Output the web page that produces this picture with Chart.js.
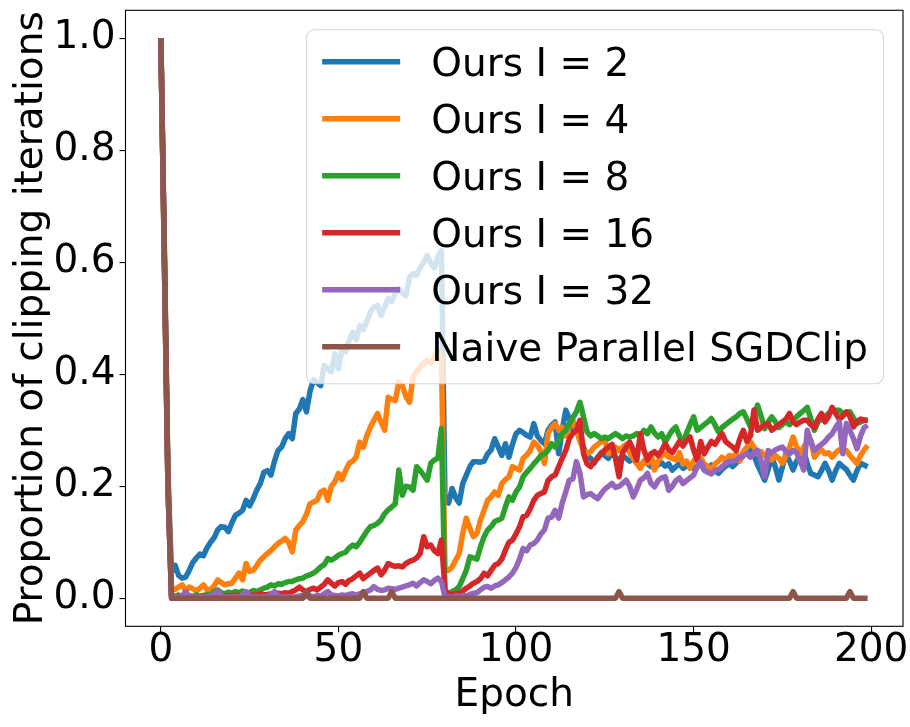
<!DOCTYPE html>
<html>
<head>
<meta charset="utf-8">
<script src="https://cdn.jsdelivr.net/npm/chart.js@4.4.1/dist/chart.umd.min.js"></script>
<style>
html, body { margin: 0; padding: 0; background: #fff; }
#wrap { width: 910px; height: 727px; }
</style>
</head>
<body>
<div id="wrap"><canvas id="clipping"></canvas></div>
<script>
var seriesNames = ['Ours I = 2', 'Ours I = 4', 'Ours I = 8', 'Ours I = 16', 'Ours I = 32', 'Naive Parallel SGDClip'];
var seriesColors = ['#1f77b4', '#ff7f0e', '#2ca02c', '#d62728', '#9467bd', '#8c564b'];

var xTicks = [0, 50, 100, 150, 200];
var yTicks = [0, 0.2, 0.4, 0.6, 0.8, 1.0];

// proportion of clipping iterations per epoch (epoch 0..199)
var oursI2 = [
  1.0, 0.62, 0.22, 0.047, 0.059, 0.041, 0.036, 0.038, 0.05, 0.064,
  0.072, 0.079, 0.076, 0.09, 0.1, 0.108, 0.122, 0.128, 0.127, 0.119,
  0.135, 0.148, 0.152, 0.157, 0.175, 0.165, 0.178, 0.193, 0.205, 0.225,
  0.228, 0.22, 0.245, 0.264, 0.27, 0.285, 0.294, 0.285, 0.33, 0.338,
  0.355, 0.333, 0.37, 0.39, 0.385, 0.38, 0.416, 0.41, 0.404, 0.437,
  0.41, 0.446, 0.44, 0.46, 0.475, 0.462, 0.487, 0.48, 0.495, 0.511,
  0.52, 0.523, 0.505, 0.52, 0.535, 0.53, 0.545, 0.553, 0.545, 0.54,
  0.573, 0.58, 0.577, 0.59, 0.6, 0.612, 0.598, 0.59, 0.61, 0.621,
  0.175, 0.17, 0.196, 0.18, 0.17, 0.205, 0.22, 0.235, 0.244, 0.244,
  0.243, 0.245, 0.258, 0.265, 0.285, 0.27, 0.255, 0.276, 0.252, 0.275,
  0.294, 0.3, 0.296, 0.291, 0.288, 0.312, 0.29, 0.282, 0.276, 0.3,
  0.309, 0.315, 0.258, 0.3, 0.336, 0.321, 0.3, 0.3, 0.29, 0.27,
  0.255, 0.25, 0.241, 0.252, 0.26, 0.255, 0.25, 0.26, 0.252, 0.246,
  0.255, 0.25, 0.245, 0.25, 0.241, 0.235, 0.245, 0.24, 0.235, 0.24,
  0.238, 0.242, 0.236, 0.24, 0.229, 0.235, 0.24, 0.232, 0.236, 0.238,
  0.232, 0.235, 0.24, 0.229, 0.232, 0.238, 0.228, 0.223, 0.23, 0.236,
  0.24, 0.235, 0.242, 0.247, 0.255, 0.262, 0.27, 0.255, 0.238, 0.225,
  0.211, 0.23, 0.252, 0.235, 0.211, 0.235, 0.258, 0.245, 0.229, 0.245,
  0.255, 0.264, 0.24, 0.223, 0.22, 0.217, 0.228, 0.241, 0.228, 0.211,
  0.228, 0.241, 0.235, 0.23, 0.22, 0.211, 0.228, 0.241, 0.238, 0.235
];
var oursI4 = [
  1.0, 0.6, 0.2, 0.018, 0.016, 0.02, 0.024, 0.013, 0.02, 0.017,
  0.013, 0.018, 0.024, 0.015, 0.016, 0.022, 0.033, 0.028, 0.024, 0.026,
  0.027, 0.036, 0.045, 0.033, 0.062, 0.048, 0.05, 0.058, 0.068, 0.074,
  0.08, 0.085, 0.092, 0.098, 0.102, 0.107, 0.1, 0.083, 0.122, 0.13,
  0.137, 0.15, 0.169, 0.172, 0.175, 0.19, 0.193, 0.175, 0.2, 0.208,
  0.223, 0.212, 0.228, 0.241, 0.245, 0.252, 0.279, 0.27, 0.29, 0.306,
  0.318, 0.33, 0.315, 0.3, 0.359, 0.355, 0.353, 0.386, 0.38, 0.36,
  0.35, 0.395, 0.405, 0.413, 0.42, 0.425, 0.42, 0.43, 0.443, 0.43,
  0.05, 0.05, 0.056, 0.068, 0.08, 0.116, 0.143, 0.125, 0.11, 0.116,
  0.14, 0.157, 0.175, 0.181, 0.19, 0.184, 0.205, 0.212, 0.217, 0.235,
  0.232, 0.229, 0.25, 0.256, 0.264, 0.279, 0.273, 0.262, 0.241, 0.294,
  0.305, 0.312, 0.3, 0.305, 0.29, 0.31, 0.318, 0.3, 0.28, 0.265,
  0.258, 0.262, 0.27, 0.275, 0.28, 0.282, 0.258, 0.265, 0.27, 0.264,
  0.27, 0.275, 0.26, 0.25, 0.24, 0.232, 0.245, 0.241, 0.258, 0.229,
  0.245, 0.255, 0.258, 0.252, 0.25, 0.247, 0.26, 0.24, 0.245, 0.232,
  0.245, 0.255, 0.25, 0.24, 0.235, 0.229, 0.24, 0.245, 0.252, 0.245,
  0.255, 0.252, 0.258, 0.245, 0.262, 0.27, 0.279, 0.27, 0.258, 0.262,
  0.255, 0.25, 0.247, 0.255, 0.25, 0.241, 0.255, 0.27, 0.288, 0.27,
  0.258, 0.27, 0.28, 0.282, 0.252, 0.26, 0.265, 0.258, 0.26, 0.252,
  0.26, 0.265, 0.262, 0.264, 0.255, 0.248, 0.241, 0.255, 0.265, 0.273
];
var oursI8 = [
  1.0, 0.6, 0.2, 0.005, 0.004, 0.006, 0.003, 0.005, 0.004, 0.003,
  0.006, 0.004, 0.005, 0.007, 0.006, 0.012, 0.015, 0.01, 0.008, 0.011,
  0.009, 0.012, 0.01, 0.013, 0.011, 0.01, 0.014, 0.012, 0.015, 0.018,
  0.02, 0.024, 0.022, 0.026, 0.025, 0.028, 0.03, 0.03, 0.033, 0.035,
  0.036, 0.04, 0.042, 0.045, 0.05, 0.056, 0.06, 0.071, 0.068, 0.072,
  0.077, 0.08, 0.082, 0.09, 0.095, 0.092, 0.1, 0.11, 0.12, 0.128,
  0.13, 0.134, 0.14, 0.151, 0.158, 0.163, 0.169, 0.229, 0.184, 0.2,
  0.199, 0.193, 0.235, 0.228, 0.22, 0.211, 0.241, 0.247, 0.25, 0.303,
  0.005, 0.008, 0.012, 0.015, 0.021, 0.035, 0.05, 0.074, 0.072, 0.07,
  0.092, 0.11, 0.122, 0.128, 0.137, 0.14, 0.143, 0.163, 0.181, 0.175,
  0.19, 0.199, 0.217, 0.225, 0.232, 0.24, 0.247, 0.255, 0.258, 0.264,
  0.276, 0.27, 0.28, 0.294, 0.3, 0.312, 0.322, 0.333, 0.35, 0.324,
  0.297, 0.29, 0.294, 0.29, 0.285, 0.288, 0.285, 0.29, 0.294, 0.29,
  0.285, 0.29, 0.288, 0.29, 0.294, 0.29, 0.3, 0.294, 0.306, 0.295,
  0.288, 0.294, 0.279, 0.29, 0.3, 0.306, 0.29, 0.276, 0.295, 0.31,
  0.324, 0.3, 0.305, 0.31, 0.315, 0.321, 0.31, 0.297, 0.305, 0.31,
  0.315, 0.32, 0.324, 0.33, 0.333, 0.32, 0.306, 0.325, 0.345, 0.325,
  0.303, 0.315, 0.324, 0.315, 0.305, 0.31, 0.315, 0.31, 0.318, 0.324,
  0.33, 0.335, 0.341, 0.32, 0.3, 0.315, 0.32, 0.325, 0.33, 0.335,
  0.336, 0.336, 0.33, 0.332, 0.333, 0.322, 0.312, 0.315, 0.318, 0.318
];
var oursI16 = [
  1.0, 0.6, 0.2, 0.003, 0.002, 0.004, 0.003, 0.002, 0.004, 0.003,
  0.002, 0.003, 0.004, 0.003, 0.002, 0.004, 0.005, 0.003, 0.004, 0.005,
  0.004, 0.006, 0.005, 0.004, 0.006, 0.007, 0.005, 0.006, 0.008, 0.006,
  0.007, 0.008, 0.006, 0.009, 0.008, 0.01, 0.009, 0.012, 0.015, 0.02,
  0.015, 0.012, 0.016, 0.018, 0.015, 0.02, 0.025, 0.033, 0.027, 0.022,
  0.028, 0.03, 0.025, 0.032, 0.035, 0.04, 0.045, 0.035, 0.04, 0.045,
  0.05, 0.054, 0.042, 0.05, 0.062, 0.059, 0.057, 0.058, 0.056, 0.062,
  0.066, 0.068, 0.072, 0.08, 0.11, 0.092, 0.095, 0.085, 0.08, 0.104,
  0.015, 0.006, 0.007, 0.008, 0.009, 0.013, 0.018, 0.022, 0.027, 0.03,
  0.035, 0.045, 0.04, 0.05, 0.059, 0.062, 0.07, 0.086, 0.1, 0.104,
  0.115, 0.128, 0.146, 0.148, 0.16, 0.175, 0.184, 0.187, 0.19, 0.21,
  0.217, 0.22, 0.235, 0.25, 0.264, 0.285, 0.295, 0.3, 0.318, 0.258,
  0.24, 0.235, 0.245, 0.25, 0.258, 0.265, 0.27, 0.275, 0.25, 0.217,
  0.26, 0.27, 0.279, 0.265, 0.247, 0.294, 0.265, 0.247, 0.258, 0.262,
  0.255, 0.264, 0.276, 0.265, 0.26, 0.27, 0.28, 0.272, 0.282, 0.288,
  0.265, 0.247, 0.28, 0.258, 0.27, 0.28, 0.275, 0.285, 0.294, 0.28,
  0.275, 0.27, 0.264, 0.285, 0.3, 0.28, 0.29, 0.336, 0.3, 0.305,
  0.31, 0.312, 0.3, 0.305, 0.31, 0.315, 0.32, 0.33, 0.315, 0.31,
  0.315, 0.318, 0.318, 0.31, 0.305, 0.32, 0.33, 0.315, 0.325, 0.341,
  0.33, 0.32, 0.325, 0.333, 0.325, 0.306, 0.315, 0.32, 0.318, 0.318
];
var oursI32 = [
  1.0, 0.6, 0.2, 0.002, 0.003, 0.002, 0.004, 0.012, 0.003, 0.002,
  0.002, 0.003, 0.002, 0.003, 0.004, 0.008, 0.013, 0.004, 0.002, 0.003,
  0.002, 0.003, 0.002, 0.006, 0.012, 0.004, 0.002, 0.003, 0.002, 0.003,
  0.002, 0.007, 0.012, 0.004, 0.003, 0.002, 0.003, 0.002, 0.003, 0.004,
  0.005, 0.003, 0.004, 0.003, 0.005, 0.004, 0.008, 0.012, 0.006, 0.005,
  0.004, 0.006, 0.005, 0.007, 0.008, 0.006, 0.008, 0.01, 0.012, 0.015,
  0.021, 0.016, 0.014, 0.015, 0.018, 0.017, 0.016, 0.018, 0.02, 0.022,
  0.024, 0.027, 0.022, 0.028, 0.033, 0.03, 0.026, 0.032, 0.036, 0.03,
  0.002, 0.003, 0.002, 0.004, 0.003, 0.005, 0.004, 0.007, 0.009, 0.01,
  0.015, 0.02, 0.021, 0.018, 0.022, 0.024, 0.028, 0.033, 0.038, 0.045,
  0.055, 0.07, 0.089, 0.085, 0.095, 0.098, 0.104, 0.115, 0.122, 0.143,
  0.145, 0.157, 0.143, 0.17, 0.19, 0.211, 0.213, 0.244, 0.223, 0.181,
  0.185, 0.187, 0.182, 0.178, 0.187, 0.195, 0.2, 0.205, 0.198, 0.2,
  0.205, 0.211, 0.2, 0.181, 0.195, 0.211, 0.215, 0.223, 0.205, 0.199,
  0.21, 0.215, 0.217, 0.193, 0.2, 0.21, 0.215, 0.205, 0.21, 0.215,
  0.22, 0.235, 0.244, 0.229, 0.225, 0.222, 0.228, 0.23, 0.235, 0.241,
  0.245, 0.244, 0.247, 0.252, 0.255, 0.258, 0.252, 0.26, 0.264, 0.245,
  0.217, 0.264, 0.26, 0.265, 0.268, 0.27, 0.262, 0.258, 0.264, 0.26,
  0.245, 0.229, 0.3, 0.28, 0.264, 0.27, 0.275, 0.28, 0.288, 0.294,
  0.305, 0.315, 0.258, 0.312, 0.3, 0.285, 0.267, 0.29, 0.305, 0.309
];
var naiveSGDClip = [
  1.0, 0.62, 0.22, 0, 0, 0, 0, 0, 0, 0,
  0, 0, 0, 0, 0, 0, 0, 0, 0, 0,
  0, 0, 0, 0, 0, 0, 0, 0, 0, 0,
  0, 0, 0, 0, 0, 0, 0, 0, 0, 0,
  0, 0.012, 0, 0, 0, 0, 0, 0, 0, 0,
  0, 0, 0, 0, 0, 0, 0, 0.012, 0, 0,
  0, 0, 0, 0, 0, 0.012, 0, 0, 0, 0,
  0, 0, 0, 0, 0, 0, 0, 0, 0, 0,
  0, 0, 0, 0, 0, 0, 0, 0, 0, 0,
  0, 0, 0, 0, 0, 0, 0, 0, 0, 0,
  0, 0, 0, 0, 0, 0, 0, 0, 0, 0,
  0, 0, 0, 0, 0, 0, 0, 0, 0, 0,
  0, 0, 0, 0, 0, 0, 0, 0, 0, 0.012,
  0, 0, 0, 0, 0, 0, 0, 0, 0, 0,
  0, 0, 0, 0, 0, 0, 0, 0, 0, 0,
  0, 0, 0, 0, 0, 0, 0, 0, 0, 0,
  0, 0, 0, 0, 0, 0, 0, 0, 0, 0,
  0, 0, 0, 0, 0, 0, 0, 0, 0.012, 0,
  0, 0, 0, 0, 0, 0, 0, 0, 0, 0,
  0, 0, 0, 0, 0.012, 0, 0, 0, 0, 0
];

var allSeries = [oursI2, oursI4, oursI8, oursI16, oursI32, naiveSGDClip];
var epochs = oursI2.map(function(v, i) { return i; });

var FONT = 'DejaVu Sans';
var FS = 39;

// black box round the plot area (matplotlib spines)
var framePlugin = {
  id: 'frame',
  afterDatasetsDraw: function(chart) {
    var a = chart.chartArea, ctx = chart.ctx;
    ctx.save();
    ctx.strokeStyle = '#000';
    ctx.lineWidth = 1.1;
    ctx.strokeRect(a.left, a.top, a.right - a.left, a.bottom - a.top);
    ctx.restore();
  }
};

// legend drawn over the lines, like matplotlib's framed legend
var legendPlugin = {
  id: 'legendBox',
  afterDraw: function(chart) {
    var a = chart.chartArea, ctx = chart.ctx;
    var sets = chart.data.datasets;
    var pad = 15.6, handle = 78, gap = 31.2, step = 57, r = 8;
    ctx.save();
    ctx.font = FS + 'px "' + FONT + '"';
    var textW = 0;
    sets.forEach(function(d) { textW = Math.max(textW, ctx.measureText(d.label).width); });
    var w = pad * 2 + handle + gap + textW;
    var h = 32 + step * (sets.length - 1) + 37;
    var right = a.right - 19.5, top = a.top + 19.5, left = right - w;

    ctx.beginPath();
    ctx.moveTo(left + r, top);
    ctx.arcTo(left + w, top, left + w, top + h, r);
    ctx.arcTo(left + w, top + h, left, top + h, r);
    ctx.arcTo(left, top + h, left, top, r);
    ctx.arcTo(left, top, left + w, top, r);
    ctx.closePath();
    ctx.fillStyle = 'rgba(255,255,255,0.8)';
    ctx.fill();
    ctx.strokeStyle = 'rgba(204,204,204,0.8)';
    ctx.lineWidth = 1.1;
    ctx.stroke();

    sets.forEach(function(d, i) {
      var cy = top + 32 + step * i;
      ctx.strokeStyle = d.borderColor;
      ctx.lineWidth = 5.5;
      ctx.lineCap = 'butt';
      ctx.beginPath();
      ctx.moveTo(left + pad, cy);
      ctx.lineTo(left + pad + handle, cy);
      ctx.stroke();
      ctx.fillStyle = '#000';
      ctx.textAlign = 'left';
      ctx.textBaseline = 'alphabetic';
      ctx.fillText(d.label, left + pad + handle + gap, cy + 14.2);
    });
    ctx.restore();
  }
};

Chart.defaults.font.family = FONT;
Chart.defaults.font.size = FS;
Chart.defaults.color = '#000';

var datasets = allSeries.map(function(vals, i) {
  return {
    label: seriesNames[i],
    data: vals,
    borderColor: seriesColors[i],
    backgroundColor: seriesColors[i],
    borderWidth: 5.5,
    pointRadius: 0,
    tension: 0,
    fill: false,
    borderJoinStyle: 'round',
    order: allSeries.length - 1 - i
  };
});

var ctx = document.getElementById('clipping').getContext('2d');
var myChart = new Chart(ctx, {
  type: 'line',
  data: {
    labels: epochs,
    datasets: datasets
  },
  options: {
    responsive: true,
    maintainAspectRatio: false,
    animation: false,
    layout: { padding: { top: 10.3, right: 7, left: 0, bottom: 0 } },
    plugins: {
      legend: { display: false },
      tooltip: { enabled: false }
    },
    scales: {
      x: {
        type: 'linear',
        min: -9.95,
        max: 208.95,
        afterBuildTicks: function(scale) {
          scale.ticks = xTicks.map(function(v) { return { value: v }; });
        },
        afterFit: function(scale) {
          scale.height = 100.7;
          scale.paddingLeft = 0;
          scale.paddingRight = 0;
        },
        ticks: {
          autoSkip: false,
          maxRotation: 0,
          padding: -5,
          callback: function(v) { return String(v); }
        },
        grid: { drawOnChartArea: false, drawTicks: true, tickLength: 6, color: '#000', lineWidth: 1.1 },
        border: { display: false },
        title: { display: true, text: 'Epoch', padding: { top: 0, bottom: 8 } }
      },
      y: {
        type: 'linear',
        min: -0.05,
        max: 1.05,
        afterBuildTicks: function(scale) {
          scale.ticks = yTicks.map(function(v) { return { value: v }; });
        },
        afterFit: function(scale) {
          scale.width = 125.5;
          scale.paddingTop = 0;
          scale.paddingBottom = 0;
        },
        ticks: {
          padding: 4,
          callback: function(v) { return v.toFixed(1); }
        },
        grid: { drawOnChartArea: false, drawTicks: true, tickLength: 6, color: '#000', lineWidth: 1.1 },
        border: { display: false },
        title: { display: true, text: 'Proportion of clipping iterations', padding: { top: 8, bottom: 0 } }
      }
    }
  },
  plugins: [framePlugin, legendPlugin]
});
</script>
</body>
</html>
